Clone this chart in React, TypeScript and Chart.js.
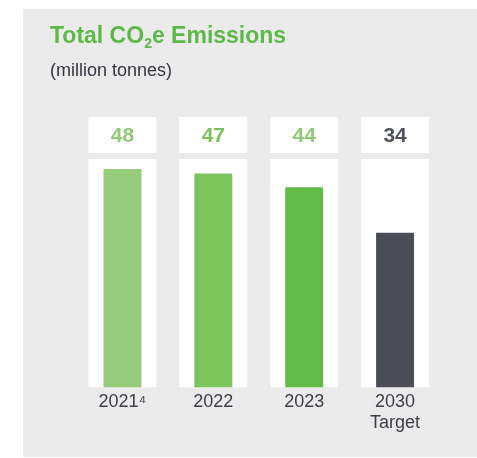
import React, { useEffect, useRef } from "react";
import { Chart, registerables } from "chart.js";

Chart.register(...registerables);

const categories: (string | string[])[] = ["2021\u2074", "2022", "2023", ["2030", "Target"]];
const emissions = [48, 47, 44, 34];
const valueLabels = ["48", "47", "44", "34"];
const barColors = ["#95cc7b", "#7ec45c", "#63bb47", "#4b4d56"];
const labelColors = ["#8fca74", "#7bc258", "#8fca74", "#50535c"];
const AXIS_MAX = 50.2;
const columnBackground = categories.map(() => AXIS_MAX);

const FONT = "'Liberation Sans', Arial, Helvetica, sans-serif";

const valueBoxPlugin = {
  id: "valueBoxes",
  afterDatasetsDraw(chart: any) {
    const ctx = chart.ctx;
    const bgMeta = chart.getDatasetMeta(1);
    const top = chart.chartArea.top;
    ctx.save();
    bgMeta.data.forEach((el: any, i: number) => {
      const w = el.width;
      const x = el.x;
      ctx.fillStyle = "#ffffff";
      ctx.fillRect(x - w / 2, top - 42, w, 36);
      ctx.fillStyle = labelColors[i];
      ctx.font = `bold 21px ${FONT}`;
      ctx.textAlign = "center";
      ctx.textBaseline = "middle";
      ctx.fillText(valueLabels[i], x, top - 23);
    });
    ctx.restore();
  },
};

export default function App() {
  const ref = useRef<HTMLCanvasElement>(null);
  useEffect(() => {
    document.body.style.margin = "0";
    const chart = new Chart(ref.current!, {
      type: "bar",
      data: {
        labels: categories,
        datasets: [
          {
            data: emissions,
            backgroundColor: barColors,
            grouped: false,
            categoryPercentage: 1,
            barPercentage: 38 / 91,
          } as any,
          {
            data: columnBackground,
            backgroundColor: "#ffffff",
            grouped: false,
            categoryPercentage: 1,
            barPercentage: 68 / 91,
          } as any,
        ],
      },
      options: {
        animation: false,
        responsive: false,
        layout: { padding: { top: 159, left: 77, right: 36.5, bottom: 19.5 } },
        plugins: { legend: { display: false }, tooltip: { enabled: false } },
        scales: {
          y: { display: false, min: 0, max: AXIS_MAX },
          x: {
            grid: { display: false, drawTicks: false },
            border: { display: false },
            ticks: {
              color: "#3d3f48",
              padding: 4.5,
              font: { family: FONT, size: 18, lineHeight: 21 / 18 },
            },
          },
        },
      },
      plugins: [valueBoxPlugin],
    });
    return () => chart.destroy();
  }, []);

  return (
    <div style={{ position: "relative", width: 477, height: 458 }}>
      <div
        style={{
          position: "fixed",
          left: 23,
          top: 9,
          right: 0,
          height: 448,
          background: "#ebebeb",
        }}
      />
      <canvas
        ref={ref}
        width={477}
        height={458}
        style={{ display: "block", position: "relative" }}
      />
      <div
        style={{
          position: "absolute",
          left: 50,
          top: 24,
          fontFamily: FONT,
          fontWeight: "bold",
          fontSize: 23,
          color: "#5cb947",
          lineHeight: 1,
          whiteSpace: "nowrap",
        }}
      >
        Total CO<sub style={{ fontSize: 14, verticalAlign: "-5px" }}>2</sub>e Emissions
      </div>
      <div
        style={{
          position: "absolute",
          left: 50,
          top: 61,
          fontFamily: FONT,
          fontSize: 18,
          color: "#353740",
          lineHeight: 1,
          whiteSpace: "nowrap",
        }}
      >
        (million tonnes)
      </div>
    </div>
  );
}
